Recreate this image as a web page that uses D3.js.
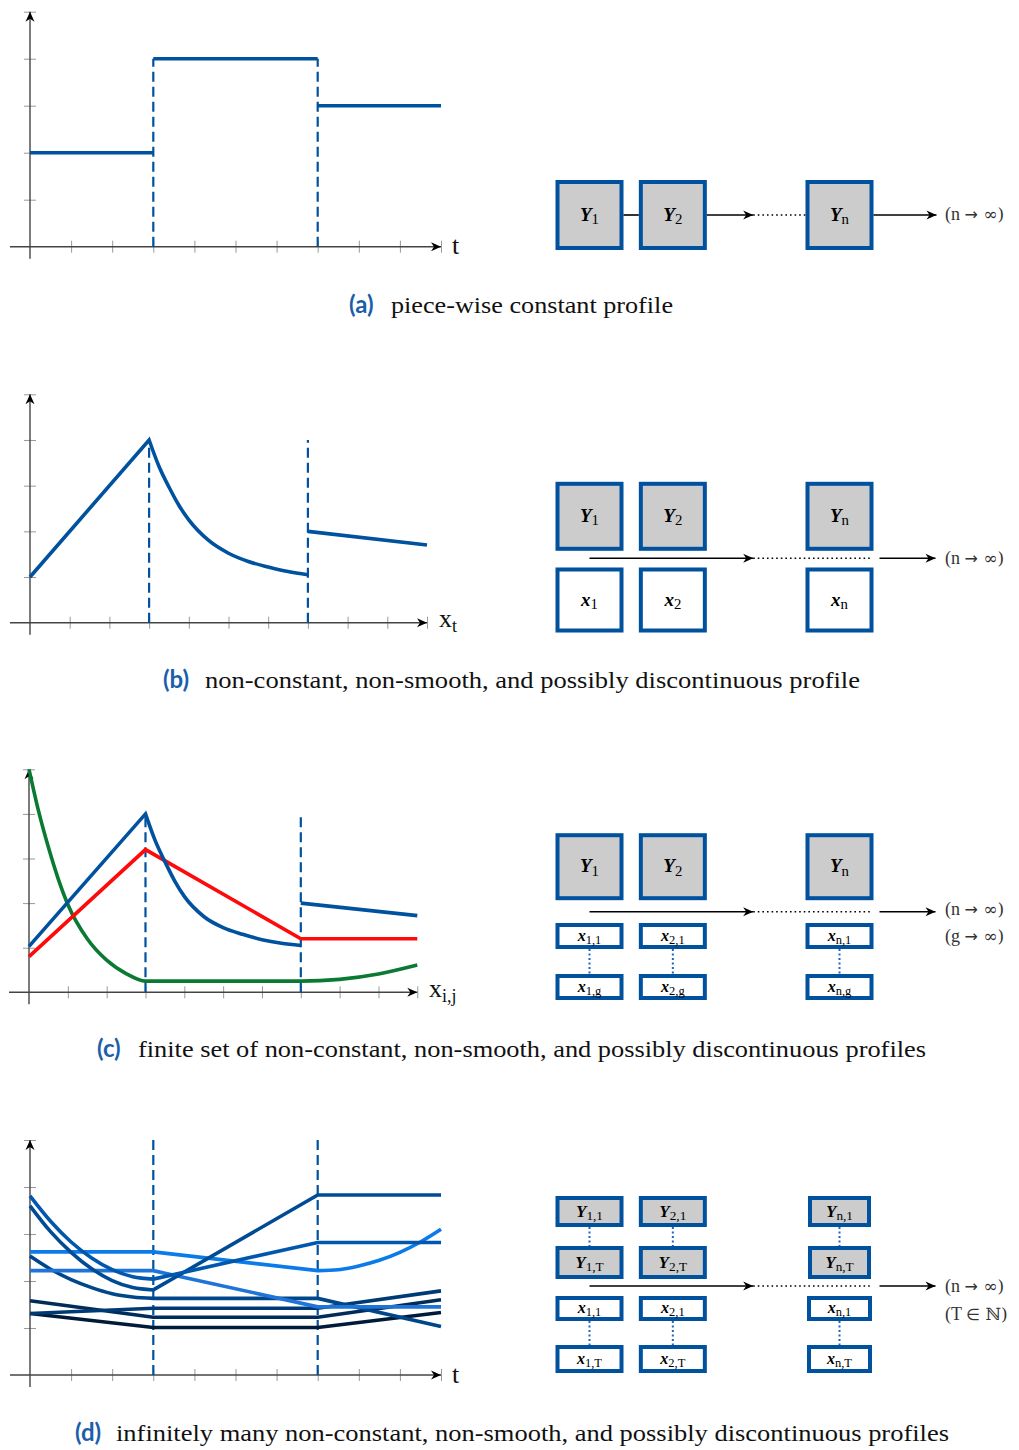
<!DOCTYPE html>
<html>
<head>
<meta charset="utf-8">
<script src="https://cdn.jsdelivr.net/npm/d3@7"></script>
<style>
  body { margin: 0; background: #fff; }
  svg text { font-family: "Liberation Serif", "DejaVu Serif", serif; }
</style>
</head>
<body>
<div id="chart"></div>
<script>
    // ---------- data ----------
    var xTicks = [1, 2, 3, 4, 5, 6, 7, 8, 9, 10];
    var yTicks = [1, 2, 3, 4, 5];

    // (a) piece-wise constant profile
    var aLevel1 = [[0, 2], [3, 2]];
    var aLevel2 = [[3, 4], [7, 4]];
    var aLevel3 = [[7, 3], [10, 3]];
    var aBreaks = [[3, 4], [7, 4]];

    // (b) one non-smooth profile
    var bRise = [[0, 1], [3, 4]];
    var bDecay = [[3, 4], [3.25, 3.42], [3.5, 2.97], [3.75, 2.57], [4, 2.25], [4.5, 1.8], [5, 1.52], [5.5, 1.34], [6, 1.22], [6.5, 1.12], [7, 1.05]];
    var bTail = [[7, 2], [10, 1.7]];
    var bBreaks = [[3, 4], [7, 4]];

    // (c) finite set of profiles
    var cBlueRise = [[0, 1.03], [3, 4]];
    var cBlueDecay = [[3, 4], [3.25, 3.4], [3.5, 2.93], [3.75, 2.5], [4, 2.15], [4.5, 1.7], [5, 1.45], [5.5, 1.3], [6, 1.18], [6.5, 1.1], [7, 1.05]];
    var cBlueTail = [[7, 2], [10, 1.72]];
    var cRed = [[0, 0.8], [3, 3.2], [7, 1.2], [10, 1.2]];
    var cGreen = [[0, 5], [0.25, 4.05], [0.5, 3.25], [0.75, 2.55], [1, 1.97], [1.5, 1.2], [2, 0.72], [2.5, 0.42], [3, 0.25], [7, 0.25], [8, 0.29], [9, 0.41], [10, 0.61]];
    var cBreaks = [[3, 4], [7, 4]];

    // (d) many profiles
    var dCurveA = [[0, 3.81], [0.5, 3.27], [1, 2.83], [1.5, 2.49], [2, 2.24], [2.5, 2.09], [3, 2.04]];
    var dLineA = [[3, 2.04], [7, 2.82], [10, 2.82]];
    var dCurveB = [[0, 3.6], [0.5, 3.05], [1, 2.61], [1.5, 2.26], [2, 2.01], [2.5, 1.86], [3, 1.81]];
    var dLineB = [[3, 1.81], [7, 3.83], [10, 3.83]];
    var dCurveC = [[0, 2.53], [0.5, 2.25], [1, 2.03], [1.5, 1.86], [2, 1.73], [2.5, 1.66], [3, 1.63]];
    var dLineC = [[3, 1.63], [7, 1.63], [10, 1.03]];
    var dLineD = [[0, 2.62], [3, 2.62], [7, 2.22]];
    var dCurveD = [[7, 2.22], [7.5, 2.24], [8, 2.32], [8.5, 2.44], [9, 2.61], [9.5, 2.83], [10, 3.1]];
    var dLineE = [[0, 2.22], [3, 2.22], [7, 1.45], [10, 1.45]];
    var dLineF = [[0, 1.58], [3, 1.23], [7, 1.23], [10, 1.6]];
    var dLineG = [[0, 1.31], [3, 1.42], [7, 1.42], [10, 1.79]];
    var dLineH = [[0, 1.31], [3, 1.01], [7, 1.01], [10, 1.33]];
    var dBreaks = [[3, 5], [7, 5]];

    // diagram labels [symbol, subscript]
    var colKeys = ["1", "2", "…", "n"];
    var aBoxes = [["Y", "1"], ["Y", "2"], ["Y", "n"]];
    var bTop = [["Y", "1"], ["Y", "2"], ["Y", "n"]];
    var bBottom = [["x", "1"], ["x", "2"], ["x", "n"]];
    var cTop = [["Y", "1"], ["Y", "2"], ["Y", "n"]];
    var cFirst = [["x", "1,1"], ["x", "2,1"], ["x", "n,1"]];
    var cLast = [["x", "1,g"], ["x", "2,g"], ["x", "n,g"]];
    var dYFirst = [["Y", "1,1"], ["Y", "2,1"], ["Y", "n,1"]];
    var dYLast = [["Y", "1,T"], ["Y", "2,T"], ["Y", "n,T"]];
    var dXFirst = [["x", "1,1"], ["x", "2,1"], ["x", "n,1"]];
    var dXLast = [["x", "1,T"], ["x", "2,T"], ["x", "n,T"]];
    // limit labels split as [before, symbol, after]
    var limitN = ["(n ", "→", " ∞)"];
    var limitG = ["(g ", "→", " ∞)"];
    var limitT = ["(T ", "∈", " ℕ)"];

    var captionLabels = ["(a)", "(b)", "(c)", "(d)"];
    var captionTexts = [
        "piece-wise constant profile",
        "non-constant, non-smooth, and possibly discontinuous profile",
        "finite set of non-constant, non-smooth, and possibly discontinuous profiles",
        "infinitely many non-constant, non-smooth, and possibly discontinuous profiles"
    ];

    // ---------- setup ----------
    var svgWidth = 1019;
    var svgHeight = 1450;
    var blue = "#00519e";
    var boxGray = "#cccccc";

    var svg = d3.select("#chart")
        .append("svg")
        .attr("width", svgWidth)
        .attr("height", svgHeight);

    var defs = svg.append("defs");
    defs.append("marker")
        .attr("id", "arrow")
        .attr("viewBox", "-11 -6 12 12")
        .attr("refX", 0)
        .attr("refY", 0)
        .attr("markerWidth", 12)
        .attr("markerHeight", 12)
        .attr("markerUnits", "userSpaceOnUse")
        .attr("orient", "auto")
        .append("path")
        .attr("d", "M-10,-4.5 L0,0 L-10,4.5 L-7,0 Z")
        .attr("fill", "#000");

    // ---------- plots ----------
    function makePlot(layout) {
        var x = d3.scaleLinear().domain([0, 10]).range([layout.left, layout.right]);
        var y = d3.scaleLinear().domain([0, 5]).range([layout.bottom, layout.top]);
        var g = svg.append("g");

        var xAxis = d3.axisBottom(x).tickValues(xTicks).tickSize(6).tickFormat("");
        var gx = g.append("g").attr("transform", `translate(0, ${y(0)})`).call(xAxis);
        gx.select(".domain").remove();
        gx.selectAll(".tick line").attr("y1", -6).attr("y2", 6).attr("stroke", "#999").attr("stroke-width", 1);

        var yAxis = d3.axisLeft(y).tickValues(yTicks).tickSize(6).tickFormat("");
        var gy = g.append("g").attr("transform", `translate(${x(0)}, 0)`).call(yAxis);
        gy.select(".domain").remove();
        gy.selectAll(".tick line").attr("x1", -6).attr("x2", 6).attr("stroke", "#999").attr("stroke-width", 1);

        g.append("line")
            .attr("x1", x(0) - 20).attr("x2", x(10))
            .attr("y1", y(0)).attr("y2", y(0))
            .attr("stroke", "#444").attr("stroke-width", 1.4)
            .attr("marker-end", "url(#arrow)");
        g.append("line")
            .attr("x1", x(0)).attr("x2", x(0))
            .attr("y1", y(0) + 12).attr("y2", y(5))
            .attr("stroke", "#444").attr("stroke-width", 1.4)
            .attr("marker-end", "url(#arrow)");

        return { g: g, x: x, y: y };
    }

    function dashes(p, breaks) {
        p.g.selectAll(null)
            .data(breaks)
            .enter()
            .append("line")
            .attr("x1", d => p.x(d[0])).attr("x2", d => p.x(d[0]))
            .attr("y1", p.y(0)).attr("y2", d => p.y(d[1]))
            .attr("stroke", blue).attr("stroke-width", 2.2)
            .attr("stroke-dasharray", "10,5");
    }

    // pieces: list of [points, curve]; joined into one path so corners stay sharp
    function profile(p, pieces, color) {
        var d = pieces.map(function(piece, i) {
            var s = d3.line().x(v => p.x(v[0])).y(v => p.y(v[1])).curve(piece[1])(piece[0]);
            return i === 0 ? s : s.replace(/^M/, "L");
        }).join("");
        p.g.append("path")
            .attr("d", d)
            .attr("fill", "none")
            .attr("stroke", color)
            .attr("stroke-width", 3.6)
            .attr("stroke-linejoin", "miter");
    }

    function axisLabel(x, y, main, sub) {
        var t = svg.append("text").attr("x", x).attr("y", y).attr("font-size", 26).attr("fill", "#111");
        t.append("tspan").text(main);
        if (sub) t.append("tspan").attr("font-size", 18).attr("dy", 5).text(sub);
    }

    var lin = d3.curveLinear;
    var smooth = d3.curveMonotoneX;

    // (a)
    var pa = makePlot({ left: 30, right: 441, bottom: 246.7, top: 11.7 });
    dashes(pa, aBreaks);
    profile(pa, [[aLevel1, lin]], blue);
    profile(pa, [[aLevel2, lin]], blue);
    profile(pa, [[aLevel3, lin]], blue);
    axisLabel(452, 254, "t");

    // (b)
    var pb = makePlot({ left: 30, right: 427, bottom: 622.7, top: 394.3 });
    dashes(pb, bBreaks);
    profile(pb, [[bRise, lin], [bDecay, smooth]], blue);
    profile(pb, [[bTail, lin]], blue);
    axisLabel(439, 627, "x", "t");

    // (c)
    var pc = makePlot({ left: 29, right: 417.3, bottom: 992.3, top: 769.3 });
    dashes(pc, cBreaks);
    profile(pc, [[cGreen, smooth]], "#0a7a32");
    profile(pc, [[cRed, lin]], "#ff0a0a");
    profile(pc, [[cBlueRise, lin], [cBlueDecay, smooth]], blue);
    profile(pc, [[cBlueTail, lin]], blue);
    axisLabel(429, 997, "x", "i,j");

    // (d)
    var pd = makePlot({ left: 30, right: 441, bottom: 1375, top: 1140 });
    dashes(pd, dBreaks);
    profile(pd, [[dLineH, lin]], "#001a3a");
    profile(pd, [[dLineF, lin]], "#002c5a");
    profile(pd, [[dLineG, lin]], "#003a74");
    profile(pd, [[dCurveC, smooth], [dLineC, lin]], "#00468b");
    profile(pd, [[dLineE, lin]], "#1f74d8");
    profile(pd, [[dLineD, lin], [dCurveD, smooth]], "#0a7be8");
    profile(pd, [[dCurveB, smooth], [dLineB, lin]], "#004b95");
    profile(pd, [[dCurveA, smooth], [dLineA, lin]], "#0057ad");
    axisLabel(452, 1383, "t");

    // ---------- diagrams ----------
    var col = d3.scalePoint().domain(colKeys).range([589.5, 839.5]);
    var rowKeys = ["1", "2", "n"];

    function mathText(x, y, label, size) {
        var t = svg.append("text")
            .attr("x", x).attr("y", y)
            .attr("text-anchor", "middle")
            .attr("font-size", size)
            .attr("fill", "#000");
        t.append("tspan").attr("font-weight", "bold").attr("font-style", "italic").text(label[0]);
        t.append("tspan").attr("font-size", size * 0.78).attr("dy", size * 0.18).text(label[1]);
    }

    function drawRow(labels, cy, h, fill, size, nWidth) {
        labels.forEach(function(label, i) {
            var cx = col(rowKeys[i]);
            var w = (rowKeys[i] === "n" && nWidth) ? nWidth : 68;
            svg.append("rect")
                .attr("x", cx - w / 2 + 2).attr("y", cy - h / 2 + 2)
                .attr("width", w - 4).attr("height", h - 4)
                .attr("fill", fill)
                .attr("stroke", blue).attr("stroke-width", 4);
            mathText(cx, cy + size * 0.3, label, size);
        });
    }

    function vDots(y1, y2) {
        rowKeys.forEach(function(k) {
            svg.append("line")
                .attr("x1", col(k)).attr("x2", col(k))
                .attr("y1", y1).attr("y2", y2)
                .attr("stroke", "#1a66c0").attr("stroke-width", 2)
                .attr("stroke-dasharray", "2,2.5");
        });
    }

    function hLine(x1, x2, y, arrow, dotted) {
        var l = svg.append("line")
            .attr("x1", x1).attr("x2", x2).attr("y1", y).attr("y2", y)
            .attr("stroke", "#000").attr("stroke-width", 1.6);
        if (arrow) l.attr("marker-end", "url(#arrow)");
        if (dotted) l.attr("stroke-dasharray", "1.6,3").attr("stroke-width", 1.6);
    }

    function limitText(parts, y) {
        var t = svg.append("text")
            .attr("x", 945).attr("y", y)
            .attr("font-size", 18)
            .attr("fill", "#333");
        t.append("tspan").text(parts[0]);
        t.append("tspan").style("font-family", "'DejaVu Sans', sans-serif").attr("font-size", 16).text(parts[1]);
        t.append("tspan").style("font-family", "'DejaVu Serif', serif").attr("font-size", 17).text(parts[2]);
    }

    function mainArrow(y) {
        hLine(col("1"), col("…") - 3, y, true, false);
        hLine(col("…") - 3, col("n") + 32, y, false, true);
        hLine(col("n") + 40, col("n") + 96, y, true, false);
    }

    // (a)
    drawRow(aBoxes, 215, 70, boxGray, 19);
    hLine(col("1") + 34, col("2") - 34, 215, false, false);
    hLine(col("2") + 34, col("…") - 3, 215, true, false);
    hLine(col("…") - 3, col("n") - 34, 215, false, true);
    hLine(col("n") + 34, col("n") + 97, 215, true, false);
    limitText(limitN, 220);

    // (b)
    drawRow(bTop, 516.3, 69, boxGray, 19);
    drawRow(bBottom, 600, 65, "#fff", 19);
    mainArrow(558.3);
    limitText(limitN, 564);

    // (c)
    drawRow(cTop, 866.7, 67, boxGray, 19);
    drawRow(cFirst, 936, 26, "#fff", 16);
    drawRow(cLast, 987, 26, "#fff", 16);
    vDots(949, 974);
    mainArrow(911.7);
    limitText(limitN, 915);
    limitText(limitG, 942);

    // (d)
    drawRow(dYFirst, 1211.5, 31, boxGray, 17, 63);
    drawRow(dYLast, 1262.5, 33, boxGray, 17, 63);
    drawRow(dXFirst, 1308.5, 25, "#fff", 16, 65);
    drawRow(dXLast, 1359, 28, "#fff", 16, 65);
    vDots(1227, 1246);
    vDots(1321, 1345);
    mainArrow(1286);
    limitText(limitN, 1292);
    limitText(limitT, 1320);

    // ---------- captions ----------
    var captionLayout = [
        { lx: 349, tx: 391, tw: 282, y: 313 },
        { lx: 163, tx: 205, tw: 655, y: 688 },
        { lx: 97, tx: 138, tw: 788, y: 1057 },
        { lx: 75, tx: 116, tw: 833, y: 1441 }
    ];

    captionLayout.forEach(function(c, i) {
        svg.append("text")
            .attr("x", c.lx).attr("y", c.y)
            .attr("font-size", 24)
            .attr("font-weight", "bold")
            .style("font-family", "Lato, 'Open Sans', sans-serif")
            .attr("fill", "#1b5faa")
            .text(captionLabels[i]);
        svg.append("text")
            .attr("x", c.tx).attr("y", c.y)
            .attr("font-size", 24)
            .attr("fill", "#111")
            .attr("textLength", c.tw)
            .attr("lengthAdjust", "spacingAndGlyphs")
            .text(captionTexts[i]);
    });
</script>
</body>
</html>
